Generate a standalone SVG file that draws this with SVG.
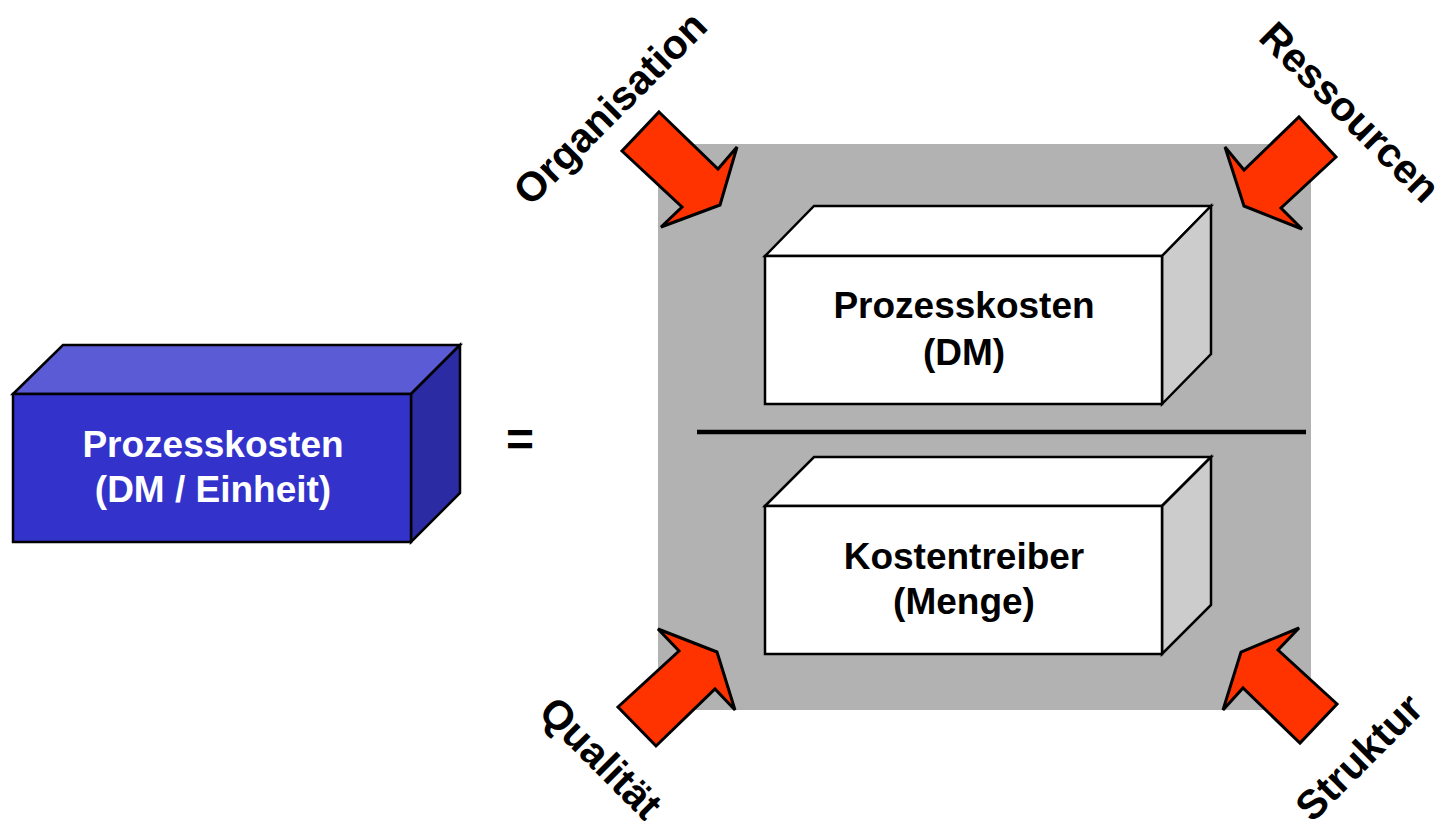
<svg xmlns="http://www.w3.org/2000/svg" width="1448" height="829" viewBox="0 0 1448 829">
<style>
.edge{stroke:#000;stroke-width:2.5;stroke-linejoin:miter}
.t{font-family:"Liberation Sans",Arial,sans-serif;font-weight:bold;font-size:37px;text-anchor:middle}
.lab{font-family:"Liberation Sans",Arial,sans-serif;font-weight:bold;font-size:41px;text-anchor:middle;fill:#000}
.arrow{fill:#FF3300;stroke:#000;stroke-width:3;stroke-linejoin:miter}
</style>
<rect width="1448" height="829" fill="#fff"/>
<g id="panel">
<rect x="658" y="144" width="653" height="566" fill="#B2B2B2"/>
<line x1="697" y1="432" x2="1306" y2="432" stroke="#000" stroke-width="4.5"/>
</g>
<g id="node-einheit">
<polygon class="edge" points="13,394 63,345 460,345 411,394" fill="#5B5BD6"/>
<polygon class="edge" points="411,394 460,345 460,493 411,542" fill="#2B2BA3"/>
<rect class="edge" x="13" y="394" width="398" height="148" fill="#3333CC"/>
<text class="t" x="213" y="457" fill="#fff">Prozesskosten</text>
<text class="t" x="213" y="502" fill="#fff">(DM / Einheit)</text>
</g>
<g id="equals">
<text x="520" y="456" font-family="Liberation Sans, Arial, sans-serif" font-weight="bold" font-size="48" text-anchor="middle">=</text>
</g>
<g id="node-dm">
<polygon class="edge" points="765,256 814,206 1211,206 1162,256" fill="#fff"/>
<polygon class="edge" points="1162,256 1211,206 1211,354 1162,404" fill="#CCCCCC"/>
<rect class="edge" x="765" y="256" width="397" height="148" fill="#fff"/>
<text class="t" x="964" y="318" fill="#000">Prozesskosten</text>
<text class="t" x="964" y="365" fill="#000">(DM)</text>
</g>
<g id="node-menge">
<polygon class="edge" points="765,506 814,457 1211,457 1162,506" fill="#fff"/>
<polygon class="edge" points="1162,506 1211,457 1211,605 1162,654" fill="#CCCCCC"/>
<rect class="edge" x="765" y="506" width="397" height="148" fill="#fff"/>
<text class="t" x="964" y="569" fill="#000">Kostentreiber</text>
<text class="t" x="964" y="614" fill="#000">(Menge)</text>
</g>
<g id="connectors">
<polygon class="arrow" points="659,112 718,169 737,147 720,205 661,227 682,207 622,151"/>
<polygon class="arrow" points="1299,117 1336,157 1281,208 1302,229 1244,206 1225,147 1244,170"/>
<polygon class="arrow" points="658,629 679,651 618,707 656,746 715,689 735,710 717,652"/>
<polygon class="arrow" points="1299,628 1278,650 1337,704 1300,743 1243,688 1223,710 1241,652"/>
</g>
<g id="label-organisation"><text class="lab" transform="translate(620,118) rotate(-45)">Organisation</text></g>
<g id="label-ressourcen"><text class="lab" transform="translate(1340,122) rotate(45)">Ressourcen</text></g>
<g id="label-qualitaet"><text class="lab" transform="translate(591,768) rotate(45)">Qualität</text></g>
<g id="label-struktur"><text class="lab" transform="translate(1369,767) rotate(-45)">Struktur</text></g>
</svg>
